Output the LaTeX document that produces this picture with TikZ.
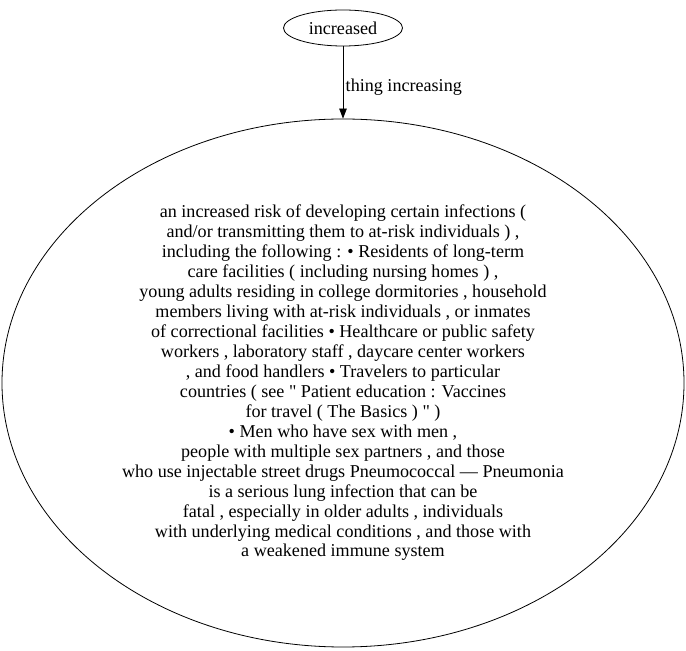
\documentclass[tikz,border=0pt]{standalone}
\usepackage{fontspec}
\setmainfont{Liberation Serif}[Ligatures=TeXOff]
\usetikzlibrary{shapes.geometric,arrows.meta}
\begin{document}
\begin{tikzpicture}[x=1pt,y=1pt,
  gvnode/.style={draw,ellipse,inner sep=0pt,line width=0.8pt},
  gvedge/.style={line width=0.8pt,-{Triangle[length=10pt,width=7.5pt]}},
  gvtext/.style={font=\fontsize{18.1}{19.95}\selectfont}]
\useasboundingbox (0,0) rectangle (686,651);
\node[gvnode,minimum width=119pt,minimum height=36pt,gvtext] (inc) at (343,623) {increased};
\node[gvnode,minimum width=682pt,minimum height=528pt,gvtext,align=center] (risk) at (343,268) {an increased risk of developing certain infections (\\
and/or transmitting them to at-risk individuals ) ,\\
including the following : \textbullet\ Residents of long-term\\
care facilities ( including nursing homes ) ,\\
young adults residing in college dormitories , household\\
members living with at-risk individuals , or inmates\\
of correctional facilities \textbullet\ Healthcare or public safety\\
workers , laboratory staff , daycare center workers\\
, and food handlers \textbullet\ Travelers to particular\\
countries ( see " Patient education : Vaccines\\
for travel ( The Basics ) " )\\
\textbullet\ Men who have sex with men ,\\
people with multiple sex partners , and those\\
who use injectable street drugs Pneumococcal — Pneumonia\\
is a serious lung infection that can be\\
fatal , especially in older adults , individuals\\
with underlying medical conditions , and those with\\
a weakened immune system};
\draw[gvedge] (inc) -- (risk) node[pos=0.56,right=-1pt,gvtext] (lbl) {thing increasing};
\end{tikzpicture}
\end{document}
